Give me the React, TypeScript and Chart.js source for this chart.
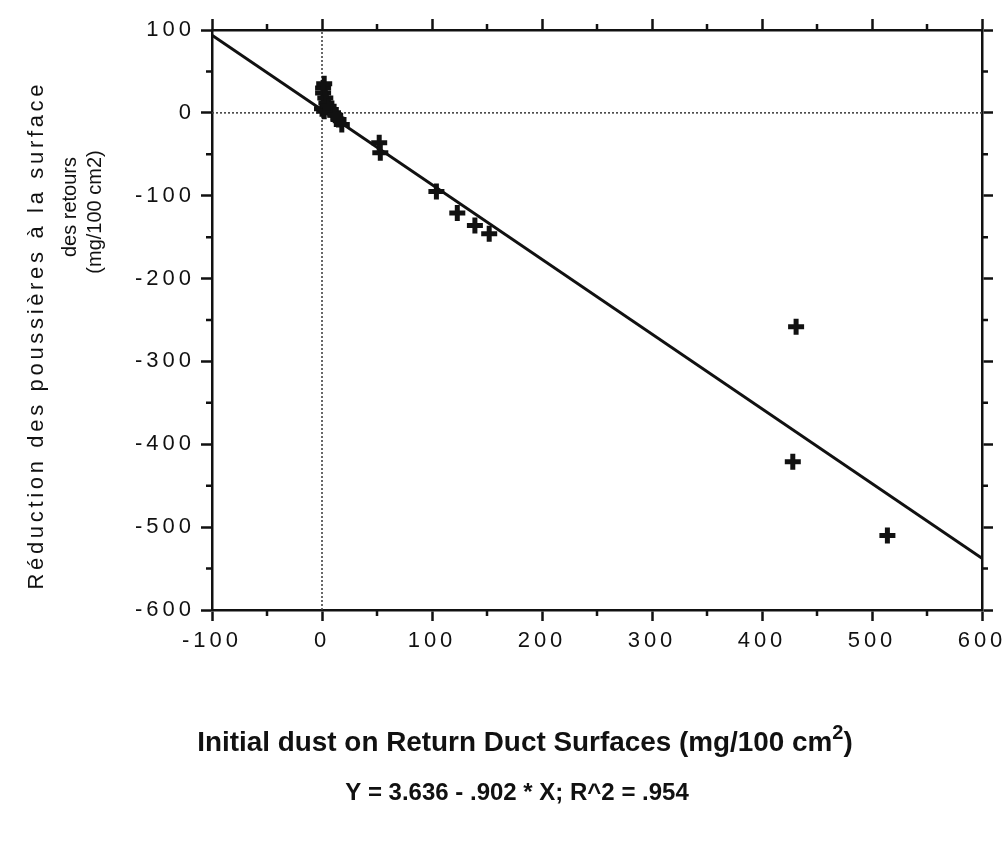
import React, { useEffect, useRef } from "react";
import { Chart, registerables } from "chart.js";

Chart.register(...registerables);

// Scatter data: initial dust (x) vs reduction (y)
const dustX = [0, 1, 2, 1, 3, 4, 2, 6, 8, 10, 12, 15, 18, 52, 53, 104, 123, 139, 152, 431, 428, 514];
const dustY = [5, 30, 35, 24, 18, 12, 2, 8, 4, 0, -3, -8, -14, -36, -48, -95, -121, -136, -146, -258, -421, -510];

// Regression line Y = 3.636 - .902 * X, endpoints at the axis limits
const fitX = [-100, 600];
const fitY = [93.8, -537.6];

// Zero reference lines
const zeroVX = [0, 0];
const zeroVY = [-600, 100];
const zeroHX = [-100, 600];
const zeroHY = [0, 0];

const xMin = -100;
const xMax = 600;
const yMin = -600;
const yMax = 100;
const minorX = [-50, 50, 150, 250, 350, 450, 550];
const minorY = [-550, -450, -350, -250, -150, -50, 50];

const yTitleLines = ["Réduction des poussières à la surface", "des retours", "(mg/100 cm2)"];
const xTitleMain = "Initial dust on Return Duct Surfaces (mg/100 cm";
const xTitleSup = "2";
const xTitleEnd = ")";
const equationText = "Y = 3.636 - .902 * X; R^2 = .954";

const FONT = "'Liberation Sans', Arial, Helvetica, sans-serif";

const decorPlugin = {
  id: "decor",
  beforeDraw(chart: any) {
    chart.ctx.letterSpacing = "4px";
  },
  afterDraw(chart: any) {
    const ctx = chart.ctx as CanvasRenderingContext2D;
    ctx.save();
    ctx.letterSpacing = "0px";
    ctx.strokeStyle = "#111";
    ctx.lineWidth = 2.5;
    // minor ticks
    const sx = chart.scales.x;
    const sxt = chart.scales.xTop;
    const sy = chart.scales.y;
    const syr = chart.scales.yRight;
    const L = 6;
    ctx.beginPath();
    minorX.forEach((v) => {
      const px = sx.getPixelForValue(v);
      ctx.moveTo(px, sx.top);
      ctx.lineTo(px, sx.top + L);
      const pt = sxt.getPixelForValue(v);
      ctx.moveTo(pt, sxt.bottom);
      ctx.lineTo(pt, sxt.bottom - L);
    });
    minorY.forEach((v) => {
      const py = sy.getPixelForValue(v);
      ctx.moveTo(sy.right, py);
      ctx.lineTo(sy.right - L, py);
      const pr = syr.getPixelForValue(v);
      ctx.moveTo(syr.left, pr);
      ctx.lineTo(syr.left + L, pr);
    });
    ctx.stroke();

    ctx.fillStyle = "#111";
    // y title lines (rotated)
    const yLines = [
      { text: yTitleLines[0], x: 37, y: 337, span: 505, size: 22 },
      { text: yTitleLines[1], x: 70, y: 207, span: 0, size: 20 },
      { text: yTitleLines[2], x: 95, y: 212, span: 0, size: 20 },
    ];
    yLines.forEach((l) => {
      ctx.save();
      ctx.font = `${l.size}px ${FONT}`;
      ctx.letterSpacing = "0px";
      let sp = 0;
      if (l.span > 0) {
        const w = ctx.measureText(l.text).width;
        sp = Math.max(0, (l.span - w) / (l.text.length - 1));
        ctx.letterSpacing = `${sp}px`;
      }
      ctx.translate(l.x, l.y);
      ctx.rotate(-Math.PI / 2);
      ctx.textAlign = "center";
      ctx.textBaseline = "middle";
      ctx.fillText(l.text, sp / 2, 0);
      ctx.restore();
    });

    // x title with superscript
    const target = 656;
    let size = 26;
    const measure = (s: number) => {
      ctx.font = `bold ${s}px ${FONT}`;
      const a = ctx.measureText(xTitleMain).width;
      const c = ctx.measureText(xTitleEnd).width;
      ctx.font = `bold ${s * 0.72}px ${FONT}`;
      const b = ctx.measureText(xTitleSup).width;
      return a + b + c;
    };
    const w0 = measure(size);
    size = size * (target / w0);
    const tw = measure(size);
    let cx = 525 - tw / 2;
    const baseY = 751;
    ctx.textAlign = "left";
    ctx.textBaseline = "alphabetic";
    ctx.font = `bold ${size}px ${FONT}`;
    ctx.fillText(xTitleMain, cx, baseY);
    cx += ctx.measureText(xTitleMain).width;
    ctx.font = `bold ${size * 0.72}px ${FONT}`;
    ctx.fillText(xTitleSup, cx, baseY - size * 0.42);
    cx += ctx.measureText(xTitleSup).width;
    ctx.font = `bold ${size}px ${FONT}`;
    ctx.fillText(xTitleEnd, cx, baseY);

    // equation line
    ctx.font = `bold 24px ${FONT}`;
    ctx.textAlign = "center";
    ctx.fillText(equationText, 517, 800);
    ctx.restore();
  },
};

function makeAxis(position: string, size: number, showLabels: boolean, isX: boolean) {
  return {
    type: "linear",
    position,
    min: isX ? xMin : yMin,
    max: isX ? xMax : yMax,
    afterFit: (scale: any) => {
      if (isX) scale.height = size;
      else scale.width = size;
    },
    ticks: {
      display: showLabels,
      stepSize: 100,
      padding: isX ? 7 : 6,
      color: "#111",
      font: { family: FONT, size: 22 },
      callback: (v: any) => String(v),
    },
    grid: {
      display: true,
      drawOnChartArea: false,
      drawTicks: true,
      tickLength: 11,
      tickWidth: 2.5,
      tickColor: "#111",
    },
    border: { display: true, color: "#111", width: 2.5 },
  };
}

export default function App() {
  const ref = useRef<HTMLCanvasElement | null>(null);
  useEffect(() => {
    if (!ref.current) return;
    const chart = new Chart(ref.current, {
      type: "scatter",
      data: {
        datasets: [
          {
            label: "points",
            data: dustX.map((x, i) => ({ x, y: dustY[i] })),
            pointStyle: "cross",
            pointRadius: 8,
            pointBorderWidth: 5,
            pointBorderColor: "#111",
            pointBackgroundColor: "#111",
            showLine: false,
            order: 0,
          },
          {
            label: "fit",
            data: fitX.map((x, i) => ({ x, y: fitY[i] })),
            showLine: true,
            borderColor: "#111",
            borderWidth: 3,
            pointRadius: 0,
            order: 1,
          },
          {
            label: "zeroV",
            data: zeroVX.map((x, i) => ({ x, y: zeroVY[i] })),
            showLine: true,
            borderColor: "#444",
            borderWidth: 1.6,
            borderDash: [2, 2],
            pointRadius: 0,
            order: 2,
          },
          {
            label: "zeroH",
            data: zeroHX.map((x, i) => ({ x, y: zeroHY[i] })),
            showLine: true,
            borderColor: "#444",
            borderWidth: 1.6,
            borderDash: [2, 2],
            pointRadius: 0,
            order: 2,
          },
        ],
      },
      options: {
        responsive: false,
        animation: false,
        layout: { padding: 0 },
        plugins: { legend: { display: false }, tooltip: { enabled: false } },
        scales: {
          x: makeAxis("bottom", 232, true, true),
          xTop: makeAxis("top", 30, false, true),
          y: makeAxis("left", 212, true, false),
          yRight: makeAxis("right", 26, false, false),
        } as any,
      },
      plugins: [decorPlugin],
    } as any);
    return () => chart.destroy();
  }, []);
  return (
    <canvas
      ref={ref}
      width={1008}
      height={842}
      style={{ position: "absolute", left: 0, top: 0, width: 1008, height: 842, background: "#fff" }}
    />
  );
}
